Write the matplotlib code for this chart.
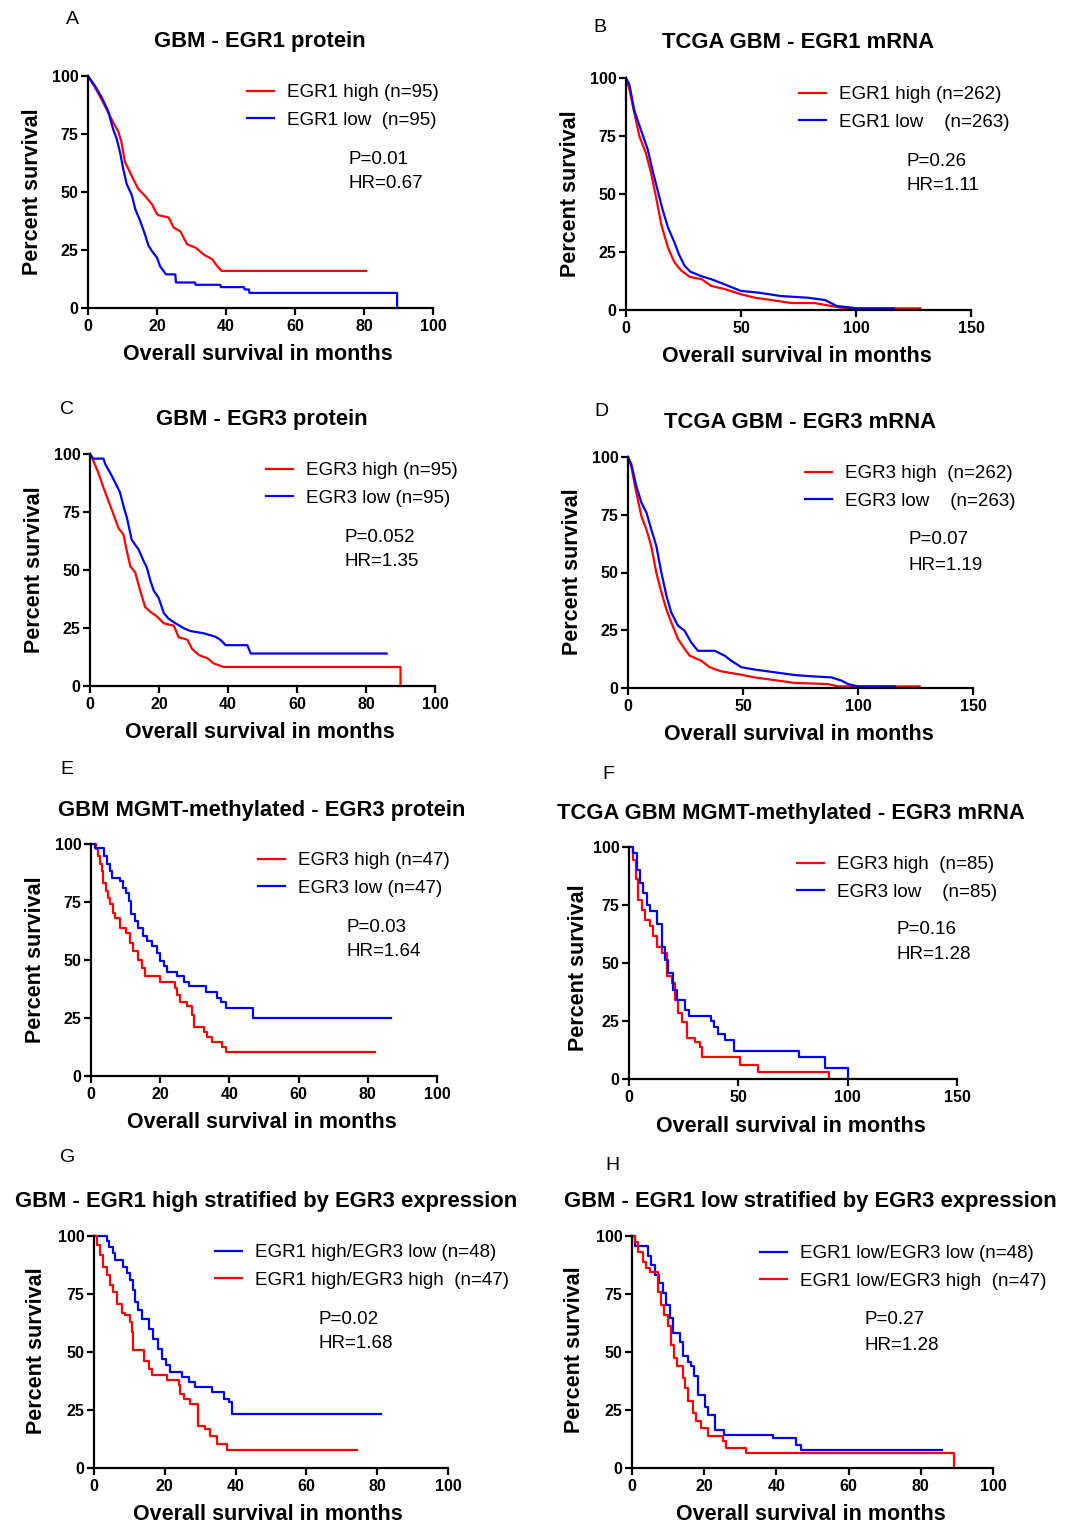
import matplotlib
matplotlib.use("Agg")
import matplotlib.pyplot as plt

plt.rcParams["font.family"] = ["Liberation Sans", "DejaVu Sans"]

# ---- data (months, percent survival) ----

# A - GBM EGR1 protein
a_hi_t = [0, 1.9, 3.9, 5.8, 7.3, 8.8, 9.7, 10.7, 11.7, 13.1, 14.6, 16.5, 18.5, 20, 20.5, 23.4, 24.8, 26.8, 28.7, 31.2, 33.6, 36, 37.5, 38.7, 80.6]
a_hi_s = [100, 95.4, 90, 84.5, 80, 76, 71.5, 63, 60, 55.6, 51.3, 48.4, 44.8, 40.5, 40, 39, 34.7, 33, 27.5, 26, 23, 21, 18, 16, 16]
a_lo_t = [0, 1.9, 3.9, 5.8, 7.3, 8.3, 9.3, 10.2, 11.2, 12.7, 13.7, 15.1, 16.5, 17.5, 18.5, 20, 20.9, 22.6, 25.3, 25.5, 31, 31.2, 38.3, 38.5, 45.2, 45.4, 46.6, 46.8, 89.6, 89.6]
a_lo_s = [100, 96, 91, 85, 77, 73, 67, 60, 53.5, 48.6, 42.6, 37.6, 31.8, 27, 24.6, 21.7, 18, 14.5, 14.5, 11, 11, 10, 10, 9, 9, 8, 8, 6.5, 6.5, 0]

# B - TCGA GBM EGR1 mRNA
b_hi_t = [0, 1.5, 3.6, 5.8, 8.7, 10.9, 13.1, 15.3, 18.2, 21.1, 24, 27.7, 32.8, 37, 43, 50, 56, 63.3, 72, 82, 89.5, 95.3, 128]
b_hi_s = [100, 95, 85, 75, 67.5, 59, 48.5, 37, 27, 20.5, 17, 14.3, 13.3, 10.4, 9, 6.8, 5.3, 4.3, 3, 3, 1.7, 0.7, 0.7]
b_lo_t = [0, 1.5, 3.6, 6.5, 9.5, 11.6, 13.8, 16, 18.2, 21.1, 23, 25.5, 28, 33, 37, 43, 50, 57.5, 67.5, 79, 86.5, 91.7, 101, 116.5]
b_lo_s = [100, 97, 86, 77.6, 69, 60, 51.4, 43, 35.7, 29, 24, 19, 16.5, 14.5, 13.3, 11, 8.2, 7.5, 6, 5.3, 4.3, 1.7, 0.7, 0.7]

# C - GBM EGR3 protein
c_hi_t = [0, 1, 2.4, 3.9, 5.3, 6.8, 8.3, 9.7, 10.7, 11.7, 13.1, 14.6, 16, 17.5, 19.4, 21.4, 24.3, 25.7, 28.2, 29.6, 31.6, 34, 35.9, 38.8, 90, 90]
c_hi_s = [100, 97, 92, 85.5, 80, 74, 68, 65.3, 58, 51.6, 49, 40.8, 34, 32, 30, 27, 26, 21, 20, 16, 13.3, 12, 9.7, 8.2, 8.2, 0]
c_lo_t = [0, 1, 3.9, 4.4, 5.8, 7.3, 8.7, 9.7, 10.7, 12.1, 14.1, 15.5, 16.5, 17.5, 18.5, 19.9, 21.4, 22.8, 24.8, 27.2, 29.1, 33, 36.4, 37.9, 39.3, 45.6, 46.6, 86]
c_lo_s = [100, 98, 98, 95.7, 92, 87.7, 83.4, 77.6, 72.5, 63, 58.8, 54, 51, 45.4, 41, 38, 31.4, 29, 27, 24.9, 23.7, 22.7, 21.2, 19.8, 17.6, 17.6, 14, 14]

# D - TCGA GBM EGR3 mRNA
d_hi_t = [0, 1.4, 3.6, 5.8, 8, 10.1, 12.3, 14.5, 16.7, 18.8, 21.7, 24.6, 26.8, 31.9, 35.5, 40.6, 47.8, 55, 65.2, 72.5, 87, 91.3, 126.8]
d_hi_s = [100, 96, 84.6, 74.5, 68.7, 61.5, 50, 41.5, 34, 28.5, 21.3, 17, 14, 11.8, 9, 7.2, 6, 4.6, 3.2, 2.2, 1.7, 0.7, 0.7]
d_lo_t = [0, 1.4, 3.6, 5.8, 8, 10.1, 12.3, 14.5, 16.7, 18.8, 21.7, 24.6, 27.5, 30.4, 37.7, 42, 44.9, 49.3, 55, 63.8, 72.5, 81, 88.4, 92.8, 95.7, 100, 116]
d_lo_s = [100, 97, 87.5, 80.3, 76, 68.7, 61.5, 50, 40, 32.7, 27, 24.8, 19.7, 16.1, 16.1, 14, 11.8, 9, 8, 6.8, 5.6, 5, 4.6, 3.2, 1.7, 0.7, 0.7]

# E - GBM MGMT-methylated EGR3 protein
e_hi_t = [0, 1.5, 1.9, 2.6, 3.2, 3.6, 4.4, 4.9, 5.6, 6.3, 6.8, 8.3, 10.2, 11.2, 12.2, 13.6, 14.6, 15.6, 20, 24.3, 24.8, 25.8, 27.8, 29.2, 29.7, 32.6, 33.6, 35, 38, 39, 82]
e_hi_s = [100, 97.8, 95, 91.3, 88.4, 83.4, 79.8, 76.9, 74, 70.4, 68.2, 63.9, 61.7, 57.4, 53.8, 50.2, 46.5, 42.9, 40.7, 37.9, 35, 32.1, 30, 26.3, 21.3, 19, 16.9, 14.7, 12.6, 10.4, 10.4]
e_lo_t = [0, 1.3, 3.9, 4.6, 5.4, 6.1, 8.3, 9.3, 10.2, 11, 11.7, 12.7, 13.6, 15.1, 16.1, 17.5, 19, 20, 21, 21.9, 24.8, 26.8, 28.3, 33.2, 36.5, 37.5, 39, 46.8, 86.7]
e_lo_s = [100, 98.3, 95, 91.3, 88.4, 85.5, 84, 81.2, 79, 75.4, 69.7, 66.8, 63.9, 60.3, 58.1, 55.9, 53, 49.4, 47.3, 45, 42.9, 40.7, 38.6, 36.4, 33.5, 32.1, 29.3, 24.9, 24.9]

# F - TCGA GBM MGMT-methylated EGR3 mRNA
f_hi_t = [0, 2, 3.1, 4.3, 5.8, 7.3, 9.6, 11.1, 12.7, 15, 17.3, 19.5, 21, 22.6, 24.1, 26.4, 30.2, 32.4, 33.6, 50.8, 59.2, 91.6]
f_hi_s = [100, 94.5, 86, 77, 73, 68.6, 65.8, 61.5, 57, 54.3, 44.2, 41.3, 34.1, 28.3, 24.7, 17.6, 16, 14, 9.6, 6, 2.9, 0]
f_lo_t = [0, 2, 3.5, 5, 6.6, 8.1, 9.6, 12.7, 15, 16.5, 18, 20.3, 21.8, 25.6, 27.5, 37.5, 39, 40.9, 44, 47.8, 77.6, 89.8, 100]
f_lo_s = [100, 97.4, 90.2, 84.5, 80, 75, 72.2, 67, 57, 51.4, 45.7, 38.5, 34, 29.8, 27, 25, 22.6, 19.5, 16.8, 12.2, 9.6, 4.6, 0]

# G - EGR1 high stratified by EGR3
g_lo_t = [0, 3.6, 4.3, 5.3, 5.9, 8.3, 9.2, 10.2, 10.9, 11.6, 12.5, 13.5, 15.4, 16.8, 18.2, 19.2, 20.4, 21.5, 24.8, 26.7, 28.6, 33.3, 36.6, 38, 38.9, 81]
g_lo_s = [100, 97.8, 95.4, 92.5, 89.6, 86.7, 83.9, 81, 76.7, 71.6, 68, 64.4, 60.1, 55.7, 51.4, 47.1, 44.2, 41.3, 39.2, 37, 34.9, 32.7, 29.8, 28.4, 23.3, 23.3]
g_hi_t = [0, 0.8, 1.7, 2.6, 3.6, 4.5, 5.5, 6.4, 7.8, 8.8, 10.2, 10.7, 11.1, 14, 15.4, 16.3, 20.6, 23.9, 24.3, 25.3, 27.2, 29.5, 31.4, 32.8, 34.7, 37.5, 74.3]
g_hi_s = [100, 96, 91.8, 86.7, 83.1, 78.8, 75.9, 70.8, 66.6, 65.9, 63, 58.6, 50.7, 46.3, 42.8, 39.9, 37.8, 35.6, 32, 29.8, 27.7, 18.3, 16.9, 14, 10.4, 7.9, 7.9]

# H - EGR1 low stratified by EGR3
h_lo_t = [0, 0.9, 4.4, 5.3, 6.3, 7.6, 8.6, 9.5, 10.4, 11.3, 13.2, 14.1, 15.5, 16.4, 17.3, 18.3, 20.1, 21, 22.9, 25.6, 39, 45.4, 46.8, 86]
h_lo_s = [100, 95.8, 91.5, 87.5, 83.2, 79.6, 75.3, 70.3, 64.6, 58.1, 54.5, 48.1, 45.9, 43.8, 39.5, 31.6, 26.5, 23, 16.5, 14.3, 12.9, 10, 7.9, 7.9]
h_hi_t = [0, 0.7, 1.7, 3, 4, 4.9, 7.2, 8.1, 9, 10, 10.9, 11.6, 12.5, 14.1, 14.6, 15.5, 16.9, 17.8, 19.2, 21, 25.2, 26.1, 31.6, 89.2]
h_hi_s = [100, 97.6, 93.3, 89, 86.1, 84.6, 76, 70.3, 66, 61, 53, 47.3, 43.8, 38.7, 34.4, 28.7, 23.7, 20.1, 17.2, 13.6, 11.5, 8.6, 6.5, 0]

titles = ["GBM - EGR1 protein", "TCGA GBM - EGR1 mRNA", "GBM - EGR3 protein", "TCGA GBM - EGR3 mRNA",
          "GBM MGMT-methylated - EGR3 protein", "TCGA GBM MGMT-methylated - EGR3 mRNA",
          "GBM - EGR1 high stratified by EGR3 expression", "GBM - EGR1 low stratified by EGR3 expression"]
letters = ["A", "B", "C", "D", "E", "F", "G", "H"]
p_vals = ["P=0.01", "P=0.26", "P=0.052", "P=0.07", "P=0.03", "P=0.16", "P=0.02", "P=0.27"]
hr_vals = ["HR=0.67", "HR=1.11", "HR=1.35", "HR=1.19", "HR=1.64", "HR=1.28", "HR=1.68", "HR=1.28"]
labels = [
    ["EGR1 high (n=95)", "EGR1 low  (n=95)"],
    ["EGR1 high (n=262)", "EGR1 low    (n=263)"],
    ["EGR3 high (n=95)", "EGR3 low (n=95)"],
    ["EGR3 high  (n=262)", "EGR3 low    (n=263)"],
    ["EGR3 high (n=47)", "EGR3 low (n=47)"],
    ["EGR3 high  (n=85)", "EGR3 low    (n=85)"],
    ["EGR1 high/EGR3 low (n=48)", "EGR1 high/EGR3 high  (n=47)"],
    ["EGR1 low/EGR3 low (n=48)", "EGR1 low/EGR3 high  (n=47)"],
]
# each panel: series in legend order, with colour
curves = [
    [(a_hi_t, a_hi_s, "red"), (a_lo_t, a_lo_s, "blue")],
    [(b_hi_t, b_hi_s, "red"), (b_lo_t, b_lo_s, "blue")],
    [(c_hi_t, c_hi_s, "red"), (c_lo_t, c_lo_s, "blue")],
    [(d_hi_t, d_hi_s, "red"), (d_lo_t, d_lo_s, "blue")],
    [(e_hi_t, e_hi_s, "red"), (e_lo_t, e_lo_s, "blue")],
    [(f_hi_t, f_hi_s, "red"), (f_lo_t, f_lo_s, "blue")],
    [(g_lo_t, g_lo_s, "blue"), (g_hi_t, g_hi_s, "red")],
    [(h_lo_t, h_lo_s, "blue"), (h_hi_t, h_hi_s, "red")],
]
x_max = [100, 150, 100, 150, 100, 150, 100, 100]
stepped = [False, False, False, False, True, True, True, True]

# ---- layout in pixels (reference coords) ----
W, H = 1081, 1524
ax_box = [(88, 433, 76, 308), (626, 971, 78, 310), (90, 435, 454, 686), (628, 973, 457, 688),
          (91, 437, 844, 1076), (629, 957, 847, 1079), (94, 448, 1236, 1468), (632, 993, 1236, 1468)]
title_xy = [(260, 41), (798, 43), (262, 420), (800, 422), (262, 810), (791, 813), (266, 1202), (810, 1202)]
letter_xy = [(72, 20), (600, 28), (67, 410), (601, 411), (67, 770), (608, 775), (68, 1157), (612, 1166)]
ylab_xy = [(33, 192), (571, 194), (35, 570), (573, 572), (36, 960), (578, 968), (37, 1351), (574, 1350)]
xlab_xy = [(258, 354), (797, 356), (260, 733), (799, 735), (262, 1123), (791, 1126), (268, 1515), (811, 1515)]
leg_xy = [(247, 91), (799, 93), (266, 469), (805, 472), (258, 859), (797, 863), (215, 1251), (760, 1252)]
stat_xy = [(348, 159), (907, 161), (345, 537), (909, 540), (347, 927), (897, 930), (318, 1319), (865, 1320)]

fig = plt.figure(figsize=(W / 100, H / 100), dpi=100)


def fx(px):
    return px / W


def fy(py):
    return 1 - py / H


LEG_FS = 13.5
leg_px = LEG_FS * 100 / 72

for i in range(8):
    x0, x1, yt, yb = ax_box[i]
    ax = fig.add_axes([fx(x0), fy(yb), (x1 - x0) / W, (yb - yt) / H])
    handles = []
    for t, s, col in curves[i]:
        if stepped[i]:
            ln, = ax.step(t, s, where="post", color=col, lw=1.6, clip_on=False)
        else:
            ln, = ax.plot(t, s, color=col, lw=1.6, clip_on=False)
        handles.append(ln)

    ax.set_xlim(0, x_max[i])
    ax.set_ylim(0, 100)
    ax.set_yticks([0, 25, 50, 75, 100])
    ax.set_xticks(range(0, x_max[i] + 1, 50 if x_max[i] == 150 else 20))
    for sp in ["top", "right"]:
        ax.spines[sp].set_visible(False)
    for sp in ["left", "bottom"]:
        ax.spines[sp].set_linewidth(1.6)
    ax.tick_params(width=1.6, length=5, labelsize=11.5)
    ax.tick_params(axis="x", pad=3)
    ax.tick_params(axis="y", pad=2)
    for lab in ax.get_xticklabels() + ax.get_yticklabels():
        lab.set_fontweight("bold")

    lx, ly = leg_xy[i]
    ax.legend(handles, labels[i], loc="upper left", bbox_to_anchor=(fx(lx), fy(ly - 7)),
              bbox_transform=fig.transFigure, frameon=False, fontsize=LEG_FS,
              handlelength=27 / leg_px, handletextpad=13 / leg_px, labelspacing=0.55,
              borderpad=0, borderaxespad=0)

    sx, sy = stat_xy[i]
    fig.text(fx(sx), fy(sy), p_vals[i], fontsize=13.5, ha="left", va="center")
    fig.text(fx(sx), fy(sy + 25), hr_vals[i], fontsize=13.5, ha="left", va="center")

    tx, ty = title_xy[i]
    fig.text(fx(tx), fy(ty), titles[i], fontsize=15.8, fontweight="bold", ha="center", va="center")
    lx2, ly2 = letter_xy[i]
    fig.text(fx(lx2), fy(ly2), letters[i], fontsize=14, ha="center", va="center")
    yx, yy = ylab_xy[i]
    fig.text(fx(yx), fy(yy), "Percent survival", fontsize=15.5, fontweight="bold",
             rotation=90, ha="center", va="center")
    xx, xy = xlab_xy[i]
    fig.text(fx(xx), fy(xy), "Overall survival in months", fontsize=15.5, fontweight="bold",
             ha="center", va="center")

fig.savefig("out.png", dpi=100)
